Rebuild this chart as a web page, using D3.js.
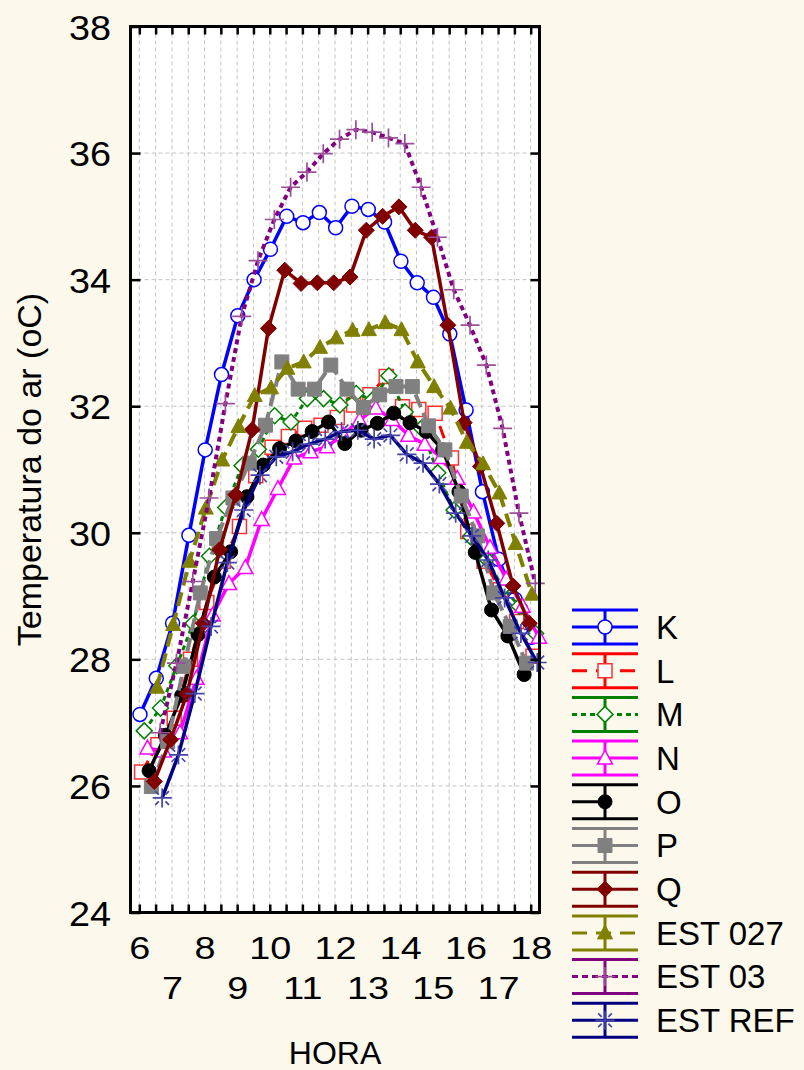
<!DOCTYPE html>
<html>
<head>
<meta charset="utf-8">
<script src="https://cdn.jsdelivr.net/npm/d3@7"></script>
<style>
body { margin: 0; background: #fdf8ec; }
svg { display: block; }
</style>
</head>
<body>
<div id="chart"></div>
<script>
// horas de medição (de meia em meia hora)
var horas = [6, 6.5, 7, 7.5, 8, 8.5, 9, 9.5, 10, 10.5, 11, 11.5, 12, 12.5, 13, 13.5, 14, 14.5, 15, 15.5, 16, 16.5, 17, 17.5, 18]
var horasRotulo = [6, 7, 8, 9, 10, 11, 12, 13, 14, 15, 16, 17, 18]
var tempTicks = [24, 26, 28, 30, 32, 34, 36, 38]

// temperatura do ar (oC) por ponto - null = sem medição
var tempK = [27.13, 27.70, 28.57, 29.96, 31.31, 32.50, 33.43, 34.00, 34.48, 35.00, 34.90, 35.06, 34.82, 35.16, 35.11, 34.91, 34.29, 33.95, 33.72, 33.14, 31.94, 30.65, 29.58, 28.95, 28.35]
var tempL = [26.22, 26.65, 27.07, 28.00, 28.90, 29.55, 30.10, 30.90, 31.35, 31.52, 31.65, 31.70, 31.82, 32.02, 32.18, 32.47, 31.99, 31.95, 31.89, 31.18, 30.02, 29.55, 29.10, 28.60, 28.05]
var tempM = [26.87, 27.23, 27.90, 28.57, 29.63, 30.40, 31.06, 31.32, 31.85, 31.75, 32.12, 32.12, 32.02, 32.20, 32.10, 32.48, 31.91, 31.65, 30.95, 30.36, 29.94, 29.58, 29.13, 28.84, 28.41]
var tempN = [26.60, 26.55, 26.84, 27.70, 28.70, 29.20, 29.45, 30.21, 30.70, 31.18, 31.28, 31.36, 31.55, 31.78, 31.97, 31.79, 31.54, 31.40, 31.19, 30.86, 30.33, 29.77, 29.27, 28.84, 28.35]
var tempO = [null, 26.24, 26.80, 27.43, 28.39, 29.30, 29.70, 30.57, 31.07, 31.33, 31.45, 31.60, 31.75, 31.41, 31.62, 31.73, 31.89, 31.74, 31.60, 31.31, 30.65, 29.69, 28.78, 28.37, 27.76]
var tempP = [null, 25.99, 26.70, 27.89, 29.05, 29.91, 30.55, 31.10, 31.70, 32.70, 32.27, 32.27, 32.65, 32.27, 31.98, 32.18, 32.31, 32.31, 31.69, 31.31, 30.58, 29.95, 29.05, 28.52, 27.94]
var tempQ = [null, 26.07, 26.73, 27.45, 28.57, 29.73, 30.60, 31.63, 33.23, 34.15, 33.94, 33.95, 33.95, 34.04, 34.78, 35.00, 35.15, 34.78, 34.67, 33.28, 31.74, 31.05, 30.15, 29.16, 28.57]
var tempEst027 = [null, 27.56, 28.55, 29.55, 30.39, 31.15, 31.68, 32.17, 32.29, 32.60, 32.70, 32.93, 33.08, 33.20, 33.21, 33.32, 33.21, 32.70, 32.31, 31.97, 31.43, 31.09, 30.63, 29.83, 29.03]
var tempEst03 = [null, 26.84, 27.94, 29.23, 30.55, 32.04, 33.42, 34.30, 34.95, 35.46, 35.70, 35.99, 36.22, 36.37, 36.33, 36.24, 36.15, 35.46, 34.67, 33.84, 33.28, 32.65, 31.65, 30.31, 29.20]
var tempEstRef = [null, 25.81, 26.49, 27.46, 28.52, 29.53, 30.36, 30.91, 31.20, 31.28, 31.40, 31.48, 31.60, 31.62, 31.48, 31.54, 31.24, 31.10, 30.77, 30.31, 29.95, 29.57, 28.97, 28.41, 27.95]

var nomes = ['K', 'L', 'M', 'N', 'O', 'P', 'Q', 'EST 027', 'EST 03', 'EST REF']
var valores = [tempK, tempL, tempM, tempN, tempO, tempP, tempQ, tempEst027, tempEst03, tempEstRef]

// estilo de cada série (cor, traço, marcador, deslocamento horizontal em horas)
var estilos = [
  {cor: '#0000ff', tracejado: null,    larg: 3.5, marca: 'circulo',   mCor: '#0000ff', cheio: false, desl: 0.02},
  {cor: '#ff0000', tracejado: '13,6',  larg: 3,   marca: 'quadrado',  mCor: '#ff3030', cheio: false, desl: 0.07},
  {cor: '#008000', tracejado: '5,4',   larg: 3,   marca: 'losango',   mCor: '#008000', cheio: false, desl: 0.15},
  {cor: '#ff00ff', tracejado: null,    larg: 3.5, marca: 'triangulo', mCor: '#ff00ff', cheio: false, desl: 0.25},
  {cor: '#000000', tracejado: null,    larg: 3.5, marca: 'circulo',   mCor: '#000000', cheio: true,  desl: -0.2},
  {cor: '#808080', tracejado: '14,6',  larg: 4,   marca: 'quadrado',  mCor: '#808080', cheio: true,  desl: -0.13},
  {cor: '#800000', tracejado: null,    larg: 3.5, marca: 'losango',   mCor: '#800000', cheio: true,  desl: -0.04},
  {cor: '#808000', tracejado: '14,7',  larg: 4,   marca: 'triangulo', mCor: '#808000', cheio: true,  desl: 0.04},
  {cor: '#800080', tracejado: '5,4',   larg: 4,   marca: 'mais',      mCor: '#9b4f9b', cheio: false, desl: 0.14},
  {cor: '#000080', tracejado: null,    larg: 3.5, marca: 'asterisco', mCor: '#4444aa', cheio: false, desl: 0.2}
]
// traço da linha do meio na legenda
var tracoLegenda = [null, '15,9', '5,4', null, '33,40', '28,12', null, '15,9', '6,4', null]

var W = 804, H = 1070
var fonte = '"Liberation Sans", Arial, Helvetica, sans-serif'

var svg = d3.select('#chart').append('svg')
  .attr('width', W)
  .attr('height', H)
  .style('background', '#fdf8ec')

var x = d3.scaleLinear().domain([5.73, 18.27]).range([130.5, 539.5])
var y = d3.scaleLinear().domain([24, 38]).range([912.5, 26.5])

// area do grafico
svg.append('rect')
  .attr('x', x.range()[0]).attr('y', y.range()[1])
  .attr('width', x.range()[1] - x.range()[0])
  .attr('height', y.range()[0] - y.range()[1])
  .attr('fill', 'white')

// grade tracejada
svg.append('g').selectAll('line')
  .data(horas)
  .enter().append('line')
  .attr('x1', d => x(d)).attr('x2', d => x(d))
  .attr('y1', y(38)).attr('y2', y(24))
  .attr('stroke', '#c4c4c4').attr('stroke-width', 1).attr('stroke-dasharray', '4,3')

svg.append('g').selectAll('line')
  .data(tempTicks.slice(1, -1))
  .enter().append('line')
  .attr('x1', x.range()[0]).attr('x2', x.range()[1])
  .attr('y1', d => y(d)).attr('y2', d => y(d))
  .attr('stroke', '#c4c4c4').attr('stroke-width', 1).attr('stroke-dasharray', '4,3')

function marcador(tipo, s) {
  var r = s / 2
  if (tipo == 'circulo') return d3.symbol(d3.symbolCircle, Math.PI * r * r)()
  if (tipo == 'quadrado') return 'M' + (-r) + ',' + (-r) + 'h' + s + 'v' + s + 'h' + (-s) + 'Z'
  if (tipo == 'losango') return 'M0,' + (-r) + 'L' + r + ',0L0,' + r + 'L' + (-r) + ',0Z'
  if (tipo == 'triangulo') return 'M0,' + (-r * 1.05) + 'L' + r + ',' + (r * 0.8) + 'L' + (-r) + ',' + (r * 0.8) + 'Z'
  if (tipo == 'mais') return 'M' + (-r) + ',0H' + r + 'M0,' + (-r) + 'V' + r
  if (tipo == 'asterisco') {
    var a = r * 0.35, b = r * 0.72
    return 'M' + (-r) + ',0H' + r + 'M0,' + (-r) + 'V' + r +
      'M' + a + ',' + a + 'L' + b + ',' + b + 'M' + (-a) + ',' + (-a) + 'L' + (-b) + ',' + (-b) +
      'M' + a + ',' + (-a) + 'L' + b + ',' + (-b) + 'M' + (-a) + ',' + a + 'L' + (-b) + ',' + b
  }
}
var tamanho = {circulo: 14, quadrado: 14, losango: 16, triangulo: 15, mais: 19, asterisco: 19}

function pintaMarcador(sel, e) {
  sel.attr('d', marcador(e.marca, tamanho[e.marca]))
  if (e.marca == 'mais' || e.marca == 'asterisco') {
    sel.attr('fill', 'none').attr('stroke', e.mCor).attr('stroke-width', 1.7)
  } else if (e.cheio) {
    sel.attr('fill', e.mCor).attr('stroke', e.mCor).attr('stroke-width', 1)
  } else {
    sel.attr('fill', 'white').attr('stroke', e.mCor).attr('stroke-width', 1.5)
  }
}

// series
valores.forEach(function(vals, i) {
  var e = estilos[i]
  var pontos = horas.map((h, j) => ({h: h + e.desl, t: vals[j]})).filter(d => d.t != null)
  var linha = d3.line().x(d => x(d.h)).y(d => y(d.t))
  var g = svg.append('g').attr('class', 'serie')
  g.append('path')
    .datum(pontos)
    .attr('fill', 'none')
    .attr('stroke', e.cor)
    .attr('stroke-width', e.larg)
    .attr('stroke-dasharray', e.tracejado)
    .attr('stroke-linejoin', 'round')
    .attr('d', linha)
  g.selectAll('.marca')
    .data(pontos)
    .enter().append('path')
    .attr('class', 'marca')
    .attr('transform', d => 'translate(' + x(d.h) + ',' + y(d.t) + ')')
    .call(pintaMarcador, e)
})

// eixos
var eixoEsq = svg.append('g')
  .attr('transform', 'translate(' + x.range()[0] + ',0)')
  .call(d3.axisLeft(y).tickValues(tempTicks).tickSizeInner(-10).tickSizeOuter(0).tickPadding(18))
var eixoDir = svg.append('g')
  .attr('transform', 'translate(' + x.range()[1] + ',0)')
  .call(d3.axisRight(y).tickValues(tempTicks).tickSizeInner(-9).tickSizeOuter(0).tickFormat(''))
var eixoBaixo = svg.append('g')
  .attr('transform', 'translate(0,' + y.range()[0] + ')')
  .call(d3.axisBottom(x).tickValues(horas).tickSizeInner(-8).tickSizeOuter(0).tickFormat(''))
var eixoTopo = svg.append('g')
  .attr('transform', 'translate(0,' + y.range()[1] + ')')
  .call(d3.axisTop(x).tickValues(horas).tickSizeInner(-8).tickSizeOuter(0).tickFormat(''))
var eixoRotulos = svg.append('g')
  .attr('transform', 'translate(0,' + y.range()[0] + ')')
  .call(d3.axisBottom(x).tickValues(horasRotulo).tickSize(0).tickFormat(d3.format('d')))

;[eixoEsq, eixoDir, eixoBaixo, eixoTopo, eixoRotulos].forEach(function(a) {
  a.select('.domain').remove()
  a.selectAll('line').attr('stroke', 'black').attr('stroke-width', 2.5)
  a.attr('font-family', fonte)
})
eixoRotulos.selectAll('line').remove()

eixoEsq.selectAll('text')
  .attr('font-size', 35)
  .attr('fill', 'black')
  .attr('dy', '0.36em')
  .attr('transform', 'scale(1.08,1)')

// rotulos das horas em duas linhas (pares em cima, impares em baixo)
eixoRotulos.selectAll('text')
  .attr('font-size', 31)
  .attr('fill', 'black')
  .attr('dy', 0)
  .attr('x', 0)
  .attr('y', d => d % 2 == 0 ? 47 : 87)
  .attr('transform', 'scale(1.22,1)')

// moldura
svg.append('rect')
  .attr('x', x.range()[0]).attr('y', y.range()[1])
  .attr('width', x.range()[1] - x.range()[0])
  .attr('height', y.range()[0] - y.range()[1])
  .attr('fill', 'none').attr('stroke', 'black').attr('stroke-width', 3)

// titulos dos eixos
svg.append('text')
  .attr('x', (x.range()[0] + x.range()[1]) / 2)
  .attr('y', 1064)
  .attr('text-anchor', 'middle')
  .attr('font-family', fonte)
  .attr('font-size', 32)
  .text('HORA')

svg.append('text')
  .attr('transform', 'translate(41,' + ((y.range()[0] + y.range()[1]) / 2) + ') rotate(-90)')
  .attr('text-anchor', 'middle')
  .attr('font-family', fonte)
  .attr('font-size', 34)
  .text('Temperatura do ar (oC)')

// legenda
var leg = svg.append('g').attr('class', 'legenda')
nomes.forEach(function(nome, i) {
  var e = estilos[i]
  var cy = 627 + i * 43.7
  var x0 = 572, x1 = 638, xc = 605
  var g = leg.append('g')
  g.append('line').attr('x1', x0).attr('x2', x1).attr('y1', cy - 17).attr('y2', cy - 17)
    .attr('stroke', e.cor).attr('stroke-width', 3)
  g.append('line').attr('x1', x0).attr('x2', x1).attr('y1', cy + 17).attr('y2', cy + 17)
    .attr('stroke', e.cor).attr('stroke-width', 3)
  g.append('line').attr('x1', xc).attr('x2', xc).attr('y1', cy - 17).attr('y2', cy + 17)
    .attr('stroke', e.cor).attr('stroke-width', 3)
  g.append('line').attr('x1', x0).attr('x2', x1).attr('y1', cy).attr('y2', cy)
    .attr('stroke', e.cor).attr('stroke-width', 3).attr('stroke-dasharray', tracoLegenda[i])
  g.append('path')
    .attr('transform', 'translate(' + xc + ',' + cy + ')')
    .call(pintaMarcador, e)
  g.append('text')
    .attr('x', 656)
    .attr('y', cy)
    .attr('dy', '0.36em')
    .attr('font-family', fonte)
    .attr('font-size', 33)
    .text(nome)
})
</script>
</body>
</html>
